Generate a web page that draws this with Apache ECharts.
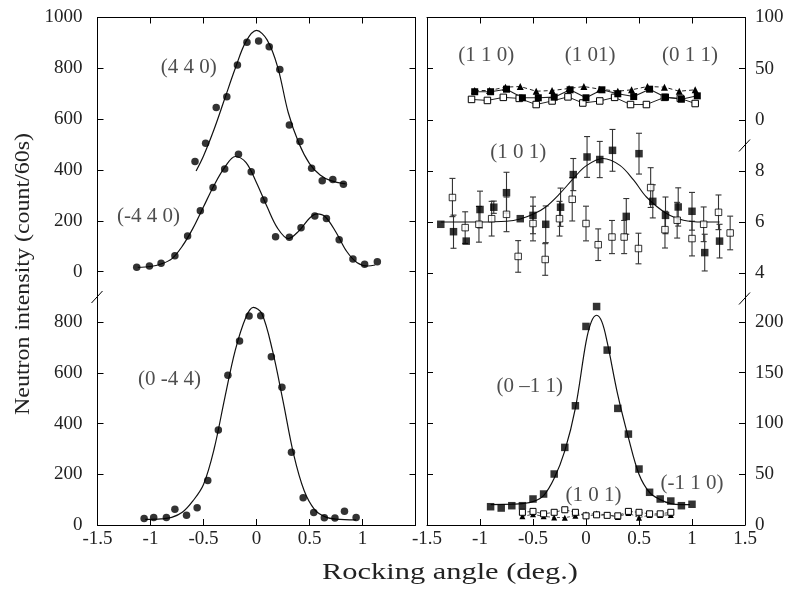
<!DOCTYPE html>
<html>
<head>
<meta charset="utf-8">
<script src="https://cdn.jsdelivr.net/npm/echarts@6/dist/echarts.min.js"></script>
<style>
  html, body { margin: 0; padding: 0; background: #fff; }
  #chart { width: 788px; height: 590px; }
</style>
</head>
<body>
<div id="chart"></div>
<script>
// ---------- tick values ----------
const xTicks = [-1.5, -1, -0.5, 0, 0.5, 1, 1.5];
const leftUpperTicks = [0, 200, 400, 600, 800, 1000];
const leftLowerTicks = [0, 200, 400, 600, 800];
const rightUpperTicks = [0, 50, 100];
const rightMiddleTicks = [4, 6, 8];
const rightLowerTicks = [0, 50, 100, 150, 200];

// ---------- left panel, upper part ----------
// (4 4 0) reflection
const r440X = [-0.58, -0.48, -0.38, -0.28, -0.18, -0.09, 0.02, 0.12, 0.22, 0.31, 0.41, 0.52, 0.62, 0.72, 0.82];
const r440Y = [433, 505, 646, 688, 813, 903, 908, 885, 795, 577, 512, 407, 358, 362, 344];
const fit440X = [-0.57, -0.5, -0.4, -0.3, -0.2, -0.1, 0, 0.1, 0.2, 0.3, 0.4, 0.5, 0.6, 0.7, 0.84];
const fit440Y = [396, 455, 560, 680, 800, 905, 949, 912, 805, 625, 505, 425, 380, 358, 345];
// (-4 4 0) reflection
const rm440X = [-1.13, -1.01, -0.90, -0.77, -0.65, -0.53, -0.41, -0.30, -0.17, -0.05, 0.07, 0.18, 0.31, 0.42, 0.55, 0.66, 0.78, 0.91, 1.02, 1.14];
const rm440Y = [17, 22, 33, 62, 140, 239, 331, 404, 462, 393, 282, 137, 135, 173, 219, 209, 125, 50, 29, 39];
const fitm440X = [-1.12, -1.0, -0.9, -0.8, -0.7, -0.6, -0.5, -0.4, -0.3, -0.2, -0.1, 0.0, 0.1, 0.2, 0.3, 0.4, 0.5, 0.57, 0.65, 0.75, 0.85, 0.95, 1.05, 1.12];
const fitm440Y = [17, 20, 30, 50, 100, 170, 255, 340, 410, 453, 430, 350, 255, 170, 130, 160, 210, 227, 215, 155, 80, 35, 22, 26];

// ---------- left panel, lower part ----------
// (0 -4 4) reflection
const r044X = [-1.06, -0.97, -0.85, -0.77, -0.66, -0.56, -0.46, -0.36, -0.27, -0.16, -0.07, 0.04, 0.14, 0.24, 0.33, 0.44, 0.54, 0.64, 0.74, 0.83, 0.94];
const r044Y = [26, 30, 30, 62, 38, 68, 176, 375, 591, 726, 825, 826, 664, 544, 287, 108, 49, 29, 28, 54, 30];
const fit044X = [-1.05, -0.9, -0.8, -0.7, -0.6, -0.5, -0.4, -0.3, -0.2, -0.1, -0.03, 0.05, 0.15, 0.25, 0.35, 0.45, 0.55, 0.65, 0.75, 0.94];
const fit044Y = [22, 24, 30, 50, 95, 160, 300, 500, 690, 820, 859, 835, 690, 490, 280, 135, 60, 32, 23, 20];

// ---------- right panel, upper part ----------
// (1 1 0) filled squares, (1 0 1) triangles, (0 1 1) open squares
const r110X = [-1.05, -0.9, -0.75, -0.6, -0.45, -0.3, -0.15, 0, 0.15, 0.3, 0.45, 0.6, 0.75, 0.9, 1.05];
const r110Y = [27.5, 27.5, 30, 21.6, 21.6, 22.2, 29.4, 21.6, 29.4, 25.5, 22.8, 30, 22.2, 20.2, 23.5];
const r101aX = [-1.05, -0.91, -0.76, -0.62, -0.47, -0.32, -0.16, -0.02, 0.13, 0.3, 0.43, 0.58, 0.74, 0.88, 1.03];
const r101aY = [28.7, 28.7, 32, 32.6, 28, 28.7, 30.7, 32.6, 30, 28, 29.4, 32.6, 32, 28, 29.4];
const r011X = [-1.08, -0.93, -0.78, -0.63, -0.47, -0.32, -0.17, -0.03, 0.13, 0.27, 0.42, 0.57, 0.74, 0.89, 1.03];
const r011Y = [20, 19, 22, 21, 15, 18.5, 22.5, 16.5, 18.5, 22, 15, 15, 22, 21, 16];

// ---------- right panel, middle part: (1 0 1) with error bars ----------
const m101FX = [-1.37, -1.25, -1.13, -1.0, -0.87, -0.75, -0.62, -0.5, -0.38, -0.24, -0.12, 0.01, 0.13, 0.25, 0.38, 0.5, 0.63, 0.75, 0.87, 1.0, 1.12, 1.26];
const m101FY = [5.91, 5.62, 5.25, 6.49, 6.58, 7.15, 6.13, 6.26, 5.91, 6.58, 7.86, 8.55, 8.45, 8.81, 6.22, 8.68, 6.81, 6.26, 6.59, 6.42, 4.8, 5.25];
const m101FErr = [0, 0.65, 0, 0.72, 0.24, 0.8, 0, 0.72, 0.72, 0.75, 0.63, 0.8, 0.71, 0.82, 0.7, 0.8, 0.65, 0.72, 0.75, 0.74, 0.72, 0.66];
const m101OX = [-1.26, -1.14, -1.01, -0.89, -0.75, -0.64, -0.5, -0.385, -0.25, -0.13, 0.0, 0.115, 0.245, 0.36, 0.495, 0.61, 0.745, 0.86, 1.0, 1.11, 1.25, 1.36];
const m101OY = [6.96, 5.78, 5.91, 6.13, 6.3, 4.65, 5.94, 4.53, 6.13, 6.89, 5.94, 5.11, 5.41, 5.41, 4.96, 7.35, 5.7, 6.07, 5.35, 5.91, 6.38, 5.57];
const m101OErr = [0.75, 0.62, 0.7, 0.68, 0.68, 0.62, 0.68, 0.62, 0.68, 0.85, 0.68, 0.62, 0.65, 0.65, 0.6, 0.78, 0.72, 0.7, 0.68, 0.68, 0.68, 0.66];
const fitm101X = [-1.37, -1.0, -0.75, -0.62, -0.5, -0.38, -0.25, -0.12, 0.0, 0.16, 0.32, 0.45, 0.57, 0.76, 0.92, 1.1, 1.26];
const fitm101Y = [6.0, 6.0, 6.03, 6.12, 6.3, 6.59, 7.1, 7.7, 8.2, 8.49, 8.22, 7.64, 6.98, 6.33, 6.07, 6.0, 6.0];

// ---------- right panel, lower part ----------
// (0 -1 1) filled squares
const r0m11X = [-0.9, -0.8, -0.7, -0.6, -0.5, -0.4, -0.3, -0.2, -0.1, 0.0, 0.1, 0.2, 0.3, 0.4, 0.5, 0.6, 0.7, 0.8, 0.9, 1.0];
const r0m11Y = [18, 16.7, 19, 19, 25.6, 30.5, 50.2, 76.4, 117.4, 195.5, 215.1, 172.2, 114.8, 89.5, 55.1, 32.2, 25.6, 23.6, 19, 20.4];
const fit0m11X = [-0.9, -0.7, -0.6, -0.5, -0.4, -0.3, -0.2, -0.1, 0.0, 0.05, 0.1, 0.15, 0.2, 0.3, 0.4, 0.5, 0.6, 0.7, 0.8, 0.9, 0.98];
const fit0m11Y = [20, 20.5, 21, 23, 29, 46, 73, 115, 180, 200, 206.5, 200, 180, 128, 86, 50, 32, 25, 21, 20, 20];
// (1 0 1) open squares and (-1 1 0) triangles
const lowX = [-0.6, -0.5, -0.4, -0.3, -0.2, -0.1, 0.0, 0.1, 0.2, 0.3, 0.4, 0.5, 0.6, 0.7, 0.8];
const low101Y = [12.5, 13.4, 11, 12.5, 15, 12.5, 9, 10, 9.5, 9, 13.4, 12.5, 11, 11, 12.5];
const lowm110Y = [8.5, 10.5, 8.5, 7.5, 7.2, 9.2, 10.5, 11.2, 9.8, 7.9, 11.8, 7.2, 9.8, 9.8, 9.8];

// ---------- reflection labels: text, anchor (x, y) and grid ----------
const labelText = ['(4 4 0)', '(-4 4 0)', '(0 -4 4)', '(1 1 0)', '(1 01)', '(0 1 1)', '(1 0 1)', '(0 \u20131 1)', '(1 0 1)', '(-1 1 0)'];
const labelX = [-0.64, -1.02, -0.82, -0.94, 0.04, 0.98, -0.64, -0.53, 0.07, 1.0];
const labelY = [802, 215, 576, 63, 63, 63, 8.73, 136, 29.5, 41.3];
const labelGrid = [0, 0, 1, 2, 2, 2, 3, 4, 4, 4];

const xTitle = 'Rocking angle (deg.)';
const yTitle = 'Neutron intensity (count/60s)';

// ---------- helpers ----------
const FONT = 'Liberation Serif';
const INK = '#111';
const zip = (xs, ys) => xs.map((x, i) => [x, ys[i]]);
const zip3 = (xs, ys, es) => xs.map((x, i) => [x, ys[i], es[i]]);

const grids = [
  { left: 97.5, top: 17.5, width: 318, height: 279.5 },
  { left: 97.5, top: 297, width: 318, height: 228 },
  { left: 427, top: 17.5, width: 318, height: 128 },
  { left: 427, top: 145.5, width: 318, height: 153 },
  { left: 427, top: 298.5, width: 318, height: 226.5 }
].map(g => Object.assign({ outerBoundsMode: 'none', containLabel: false }, g));

function xAx(grid, pos, showLabels, showMax) {
  return {
    type: 'value', gridIndex: grid, position: pos === 'none' ? 'bottom' : pos,
    min: -1.5, max: 1.5, interval: 0.5,
    show: pos !== 'none',
    axisLine: { show: true, onZero: false, lineStyle: { color: '#000', width: 1 } },
    axisTick: { show: true, inside: true, length: 6, lineStyle: { color: '#000' } },
    axisLabel: {
      show: showLabels, margin: 5, color: '#222', fontFamily: FONT, fontSize: 19,
      showMaxLabel: showMax, showMinLabel: true,
      formatter: v => String(v)
    },
    splitLine: { show: false }
  };
}
function yAx(grid, pos, min, max, ticks, showLabels) {
  return {
    type: 'value', gridIndex: grid, position: pos, min: min, max: max,
    axisLine: { show: true, onZero: false, lineStyle: { color: '#000', width: 1 } },
    axisTick: { show: true, inside: true, length: 6, customValues: ticks, lineStyle: { color: '#000' } },
    axisLabel: {
      show: showLabels, customValues: ticks, margin: pos === 'left' ? 15 : 10,
      color: '#222', fontFamily: FONT, fontSize: 19,
      formatter: v => String(v)
    },
    splitLine: { show: false }
  };
}

const xAxes = [
  xAx(0, 'top', false, false),
  xAx(1, 'bottom', true, false),
  xAx(2, 'top', false, false),
  xAx(3, 'none', false, false),
  xAx(4, 'bottom', true, true)
];
// two y axes (left, right) per grid
const yAxes = [
  yAx(0, 'left', -100, 1000, leftUpperTicks, true),
  yAx(0, 'right', -100, 1000, leftUpperTicks, false),
  yAx(1, 'left', 0, 900, leftLowerTicks, true),
  yAx(1, 'right', 0, 900, leftLowerTicks, false),
  yAx(2, 'left', -25, 100, rightUpperTicks, false),
  yAx(2, 'right', -25, 100, rightUpperTicks, true),
  yAx(3, 'left', 3, 9, rightMiddleTicks, false),
  yAx(3, 'right', 3, 9, rightMiddleTicks, true),
  yAx(4, 'left', 0, 223, rightLowerTicks, false),
  yAx(4, 'right', 0, 223, rightLowerTicks, true)
];

function pts(grid, data, symbol, size, open, z) {
  return {
    type: 'scatter', xAxisIndex: grid, yAxisIndex: grid * 2, data: data,
    symbol: symbol, symbolSize: size, z: z || 4,
    itemStyle: open
      ? { color: '#fff', borderColor: '#000', borderWidth: 1 }
      : { color: '#000', borderColor: '#000', borderWidth: 0 },
    emphasis: { disabled: true }
  };
}
function curve(grid, data, width, dash) {
  return {
    type: 'line', xAxisIndex: grid, yAxisIndex: grid * 2, data: data,
    smooth: 0.35, showSymbol: false, symbol: 'none', z: 3,
    lineStyle: { color: INK, width: width, type: dash || 'solid' },
    emphasis: { disabled: true }
  };
}
function linked(grid, data, symbol, size, open, width, dash) {
  return {
    type: 'line', xAxisIndex: grid, yAxisIndex: grid * 2, data: data,
    symbol: symbol, symbolSize: size, showSymbol: true, z: 4,
    lineStyle: { color: '#222', width: width, type: dash || 'solid' },
    itemStyle: open
      ? { color: '#fff', borderColor: '#000', borderWidth: 1 }
      : { color: '#000', borderColor: '#000', borderWidth: 0 },
    emphasis: { disabled: true }
  };
}
function errBars(grid, data) {
  return {
    type: 'custom', xAxisIndex: grid, yAxisIndex: grid * 2, data: data, z: 2,
    encode: { x: 0, y: 1 },
    renderItem: function (params, api) {
      const x = api.value(0), y = api.value(1), e = api.value(2);
      if (!e) return null;
      const hi = api.coord([x, y + e]);
      const lo = api.coord([x, y - e]);
      const w = 3;
      const st = { stroke: '#333', lineWidth: 1.1 };
      return {
        type: 'group',
        children: [
          { type: 'line', shape: { x1: hi[0], y1: hi[1], x2: lo[0], y2: lo[1] }, style: st },
          { type: 'line', shape: { x1: hi[0] - w, y1: hi[1], x2: hi[0] + w, y2: hi[1] }, style: st },
          { type: 'line', shape: { x1: lo[0] - w, y1: lo[1], x2: lo[0] + w, y2: lo[1] }, style: st }
        ]
      };
    }
  };
}
function labels() {
  return labelText.map((t, i) => ({
    type: 'scatter', xAxisIndex: labelGrid[i], yAxisIndex: labelGrid[i] * 2,
    data: [[labelX[i], labelY[i]]], symbolSize: 1, itemStyle: { color: 'transparent' },
    silent: true, z: 6,
    label: {
      show: true, position: 'inside', formatter: t,
      fontFamily: FONT, fontSize: 21, color: '#222'
    }
  }));
}

const series = [
  // left upper
  curve(0, zip(fit440X, fit440Y), 1.2),
  pts(0, zip(r440X, r440Y), 'circle', 7.5),
  curve(0, zip(fitm440X, fitm440Y), 1.2),
  pts(0, zip(rm440X, rm440Y), 'circle', 7.5),
  // left lower
  curve(1, zip(fit044X, fit044Y), 1.2),
  pts(1, zip(r044X, r044Y), 'circle', 7.5),
  // right upper
  linked(2, zip(r101aX, r101aY), 'triangle', 7, false, 1, [4, 3]),
  linked(2, zip(r011X, r011Y), 'rect', 6.5, true, 1),
  linked(2, zip(r110X, r110Y), 'rect', 7, false, 1.1),
  // right middle
  errBars(3, zip3(m101OX, m101OY, m101OErr)),
  errBars(3, zip3(m101FX, m101FY, m101FErr)),
  curve(3, zip(fitm101X, fitm101Y), 1.1),
  pts(3, zip(m101OX, m101OY), 'rect', 6.5, true, 5),
  pts(3, zip(m101FX, m101FY), 'rect', 7.5, false, 5),
  // right lower
  curve(4, zip(fit0m11X, fit0m11Y), 1.2),
  pts(4, zip(r0m11X, r0m11Y), 'rect', 7.5),
  linked(4, zip(lowX, lowm110Y), 'triangle', 6, false, 0.8, [3, 2]),
  linked(4, zip(lowX, low101Y), 'rect', 6, true, 0.8, [3, 2])
].concat(labels());

const chart = echarts.init(document.getElementById('chart'), null, { renderer: 'canvas' });
chart.setOption({
  animation: false,
  backgroundColor: '#fff',
  textStyle: { fontFamily: FONT },
  grid: grids,
  xAxis: xAxes,
  yAxis: yAxes,
  series: series
});

// width of a string in a given font, used to fit the axis titles to their span
function textWidth(str, font) {
  const ctx = document.createElement('canvas').getContext('2d');
  ctx.font = font;
  return ctx.measureText(str).width;
}

// axis-break slashes and axis titles
function slashAt(p) {
  return {
    type: 'line', z: 10, silent: true,
    shape: { x1: p[0] - 6, y1: p[1] + 6, x2: p[0] + 5, y2: p[1] - 6 },
    style: { stroke: '#000', lineWidth: 1 }
  };
}
const breakLeft = chart.convertToPixel({ xAxisIndex: 1, yAxisIndex: 2 }, [-1.5, 900]);
const breakRight1 = chart.convertToPixel({ xAxisIndex: 3, yAxisIndex: 7 }, [1.5, 9]);
const breakRight2 = chart.convertToPixel({ xAxisIndex: 4, yAxisIndex: 9 }, [1.5, 223]);

const xTitleFont = '23px "Liberation Serif"';
const yTitleFont = '21px "Liberation Serif"';
const xTitleSpan = 256;
const yTitleSpan = 282;
const xScale = xTitleSpan / textWidth(xTitle, xTitleFont);
const yScale = yTitleSpan / textWidth(yTitle, yTitleFont);

chart.setOption({
  graphic: [
    slashAt(breakLeft),
    slashAt(breakRight1),
    slashAt(breakRight2),
    {
      type: 'text', x: 450, y: 573, scaleX: xScale, silent: true,
      style: {
        text: xTitle, font: xTitleFont, fill: '#222',
        align: 'center', verticalAlign: 'middle'
      }
    },
    {
      type: 'text', x: 23, y: 274, rotation: Math.PI / 2, scaleX: yScale, silent: true,
      style: {
        text: yTitle, font: yTitleFont, fill: '#222',
        align: 'center', verticalAlign: 'middle'
      }
    }
  ]
});
</script>
</body>
</html>
